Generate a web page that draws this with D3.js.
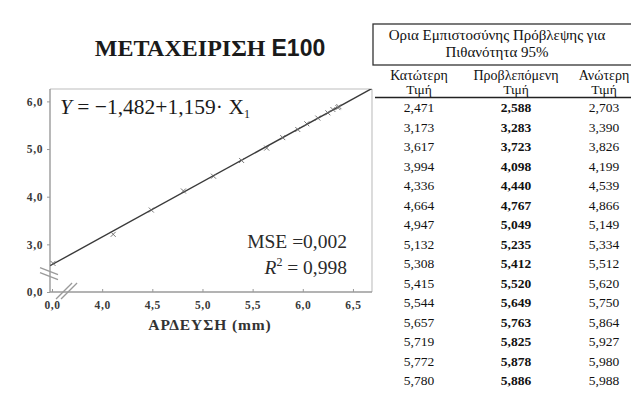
<!DOCTYPE html>
<html><head><meta charset="utf-8">
<script src="https://cdn.jsdelivr.net/npm/d3@7"></script>
<style>
html,body{margin:0;padding:0;background:#fff;}
svg{display:block;}
</style></head>
<body>
<svg id="chart" width="631" height="417"></svg>
<script>
// ---- data ----
const chartTitle = "ΜΕΤΑΧΕΙΡΙΣΗ";
const chartTitleCode = "Ε100";
const xAxisTitle = "ΑΡΔΕΥΣΗ (mm)";
const intercept = -1.482;
const slope = 1.159;
const mseText = "MSE =0,002";
const r2Value = "0,998";
// broken axes: first tick stands for 0,0
const xTickValues = [3.5, 4.0, 4.5, 5.0, 5.5, 6.0, 6.5];
const xTickLabels = ["0,0", "4,0", "4,5", "5,0", "5,5", "6,0", "6,5"];
const yTickValues = [2, 3, 4, 5, 6];
const yTickLabels = ["0,0", "3,0", "4,0", "5,0", "6,0"];
// observed points (irrigation vs response)
const irrigation = [3.51, 4.11, 4.49, 4.81, 5.11, 5.39, 5.64, 5.80, 5.95, 6.04, 6.15, 6.25, 6.30, 6.35, 6.36];
const observed   = [2.60, 3.21, 3.72, 4.12, 4.43, 4.76, 5.02, 5.24, 5.41, 5.53, 5.65, 5.76, 5.83, 5.87, 5.89];
// table
const tableTitle = ["Ορια Εμπιστοσύνης Πρόβλεψης για", "Πιθανότητα 95%"];
const columnHeads = ["Κατώτερη", "Προβλεπόμενη", "Ανώτερη"];
const columnSub = "Τιμή";
const lower     = ["2,471","3,173","3,617","3,994","4,336","4,664","4,947","5,132","5,308","5,415","5,544","5,657","5,719","5,772","5,780"];
const predicted = ["2,588","3,283","3,723","4,098","4,440","4,767","5,049","5,235","5,412","5,520","5,649","5,763","5,825","5,878","5,886"];
const upper     = ["2,703","3,390","3,826","4,199","4,539","4,866","5,149","5,334","5,512","5,620","5,750","5,864","5,927","5,980","5,988"];

// ---- drawing ----
const svg = d3.select("#chart");
const serif = "'Liberation Serif','Times New Roman',serif";
const plot = {left: 50, right: 372, top: 89, bottom: 292};
const x = d3.scaleLinear().domain([3.48, 6.69]).range([plot.left, plot.right]);
const y = d3.scaleLinear().domain([2.0, 6.26]).range([plot.bottom, plot.top]);

// title
const t = svg.append("text").attr("x", 210).attr("y", 56).attr("text-anchor", "middle")
  .attr("font-weight", "bold").attr("fill", "#1a1a1a");
t.append("tspan").attr("font-family", serif).attr("font-size", 24).text(chartTitle + " ");
t.append("tspan").attr("font-family", "'Liberation Sans',Arial,sans-serif").attr("font-size", 23).text(chartTitleCode);

// frame (top & right light)
svg.append("line").attr("x1", plot.left).attr("x2", plot.right).attr("y1", plot.top).attr("y2", plot.top)
  .attr("stroke", "#bdbdbd").attr("stroke-width", 1.2);
svg.append("line").attr("x1", plot.right).attr("x2", plot.right).attr("y1", plot.top).attr("y2", plot.bottom)
  .attr("stroke", "#c4c4c4").attr("stroke-width", 1.2);

// axes
const xAxis = d3.axisBottom(x).tickValues(xTickValues).tickSize(3).tickPadding(6)
  .tickFormat((d, i) => xTickLabels[i]);
const gx = svg.append("g").attr("transform", `translate(0,${plot.bottom})`).call(xAxis);
gx.select(".domain").attr("d", `M${plot.left},0H${plot.right}`).attr("stroke", "#9a9a9a").attr("stroke-width", 1.4);
gx.selectAll(".tick line").attr("stroke", "#999").attr("y2", -3);
gx.selectAll(".tick text").attr("font-family", serif).attr("font-size", 11.5).attr("font-weight", "bold")
  .attr("letter-spacing", 0.6).attr("fill", "#3a3a3a");

const yAxis = d3.axisLeft(y).tickValues(yTickValues).tickSize(3).tickPadding(4)
  .tickFormat((d, i) => yTickLabels[i]);
const gy = svg.append("g").attr("transform", `translate(${plot.left},0)`).call(yAxis);
gy.select(".domain").attr("d", `M0,${plot.top}V${plot.bottom}`).attr("stroke", "#9a9a9a").attr("stroke-width", 1.4);
gy.selectAll(".tick line").attr("stroke", "#999");
gy.selectAll(".tick text").attr("font-family", serif).attr("font-size", 11.5).attr("font-weight", "bold")
  .attr("letter-spacing", 0.6).attr("fill", "#3a3a3a");

// axis break marks
const brk = svg.append("g").attr("stroke", "#9a9a9a").attr("stroke-width", 1.3).attr("fill", "none");
[0, 5].forEach(o => {
  brk.append("line").attr("x1", plot.left - 10).attr("y1", y(2.45) + o - 3).attr("x2", plot.left + 8).attr("y2", y(2.45) + o + 4);
  brk.append("line").attr("x1", x(3.54) + o).attr("y1", plot.bottom + 7).attr("x2", x(3.70) + o).attr("y2", plot.bottom - 9);
});

// regression line clipped to frame
svg.append("clipPath").attr("id", "clip").append("rect")
  .attr("x", plot.left).attr("y", plot.top).attr("width", plot.right - plot.left).attr("height", plot.bottom - plot.top);
const xs = x.domain();
svg.append("line").attr("clip-path", "url(#clip)")
  .attr("x1", x(xs[0])).attr("y1", y(intercept + slope * xs[0]))
  .attr("x2", x(xs[1])).attr("y2", y(intercept + slope * xs[1]))
  .attr("stroke", "#3a3a3a").attr("stroke-width", 1.4);

// observed points
svg.append("g").selectAll("path").data(irrigation).join("path")
  .attr("transform", (d, i) => `translate(${x(d)},${y(observed[i])})`)
  .attr("d", d3.symbol(d3.symbolTimes, 18))
  .attr("stroke", "#666").attr("stroke-width", 0.9).attr("fill", "none");

// equation
const eq = svg.append("text").attr("x", 60).attr("y", 114).attr("font-family", serif)
  .attr("font-size", 21.5).attr("fill", "#1a1a1a");
eq.append("tspan").attr("font-style", "italic").text("Y");
eq.append("tspan").text(` = \u2212${String(Math.abs(intercept)).replace(".", ",")}+${String(slope).replace(".", ",")}\u00B7 X`);
eq.append("tspan").attr("font-size", 12).attr("dy", 4).text("1");

// MSE and R²
svg.append("text").attr("x", 347).attr("y", 248).attr("text-anchor", "end").attr("font-family", serif)
  .attr("font-size", 19.5).attr("fill", "#2a2a2a").text(mseText);
const r2 = svg.append("text").attr("x", 347).attr("y", 274).attr("text-anchor", "end").attr("font-family", serif)
  .attr("font-size", 19.5).attr("fill", "#2a2a2a");
r2.append("tspan").attr("font-style", "italic").text("R");
r2.append("tspan").attr("font-size", 12).attr("dy", -8).text("2");
r2.append("tspan").attr("dy", 8).text(" = " + r2Value);

// x axis title
svg.append("text").attr("x", 210).attr("y", 330).attr("text-anchor", "middle").attr("font-family", serif)
  .attr("font-size", 15.5).attr("font-weight", "bold").attr("letter-spacing", 0.9).attr("fill", "#333").text(xAxisTitle);

// ---- table ----
const tb = svg.append("g");
tb.append("rect").attr("x", 373).attr("y", 24).attr("width", 300).attr("height", 41)
  .attr("fill", "none").attr("stroke", "#333").attr("stroke-width", 1.3);
tableTitle.forEach((s, i) => tb.append("text").attr("x", 497).attr("y", 40 + i * 17)
  .attr("text-anchor", "middle").attr("font-family", serif).attr("font-size", 15).attr("fill", "#111").text(s));
const colX = [419, 516, 604];
columnHeads.forEach((s, i) => {
  tb.append("text").attr("x", colX[i]).attr("y", 80).attr("text-anchor", "middle").attr("font-family", serif)
    .attr("font-size", 14).attr("fill", "#111").text(s);
  tb.append("text").attr("x", colX[i]).attr("y", 94).attr("text-anchor", "middle").attr("font-family", serif)
    .attr("font-size", 13.5).attr("fill", "#111").text(columnSub);
});
tb.append("line").attr("x1", 375).attr("x2", 631).attr("y1", 97.5).attr("y2", 97.5).attr("stroke", "#222").attr("stroke-width", 1.3);
const rowY = d3.scalePoint().domain(d3.range(lower.length)).range([112, 385]);
[lower, predicted, upper].forEach((col, c) => {
  tb.append("g").selectAll("text").data(col).join("text")
    .attr("x", colX[c]).attr("y", (d, i) => rowY(i))
    .attr("text-anchor", "middle").attr("font-family", serif).attr("font-size", 13.5)
    .attr("font-weight", c === 1 ? "bold" : "normal").attr("fill", "#111").text(d => d);
});
</script>
</body></html>
